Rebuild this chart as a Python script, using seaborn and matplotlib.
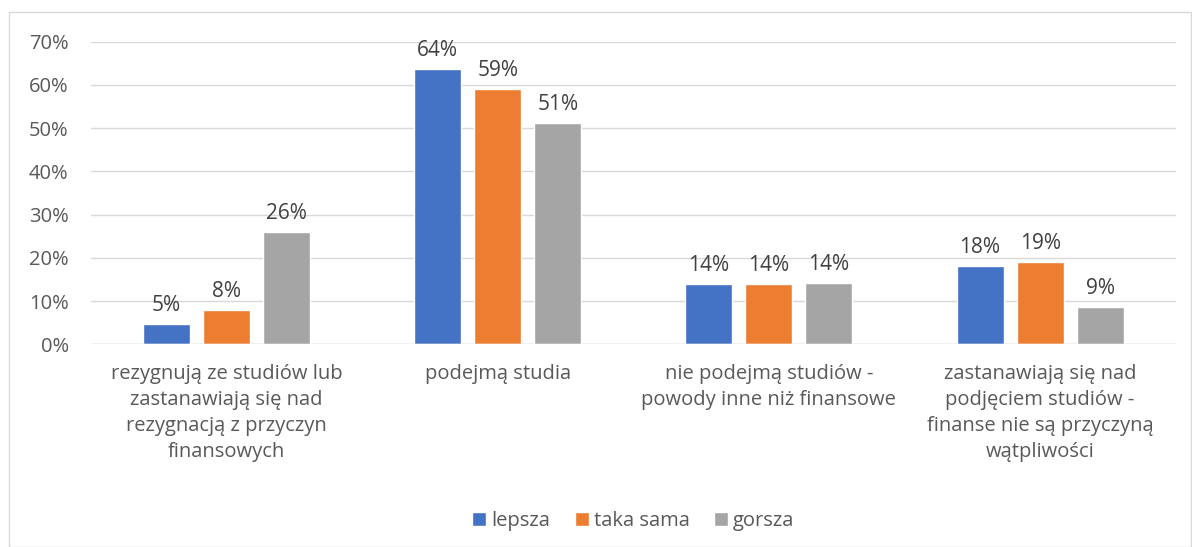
import pandas as pd
import matplotlib.pyplot as plt
import seaborn as sns
from matplotlib.patches import Rectangle
from matplotlib.ticker import PercentFormatter

# Data (percent)
categories = [
    "rezygnują ze studiów lub\nzastanawiają się nad\nrezygnacją z przyczyn\nfinansowych",
    "podejmą studia",
    "nie podejmą studiów -\npowody inne niż finansowe",
    "zastanawiają się nad\npodjęciem studiów -\nfinanse nie są przyczyną\nwątpliwości",
]
series = ["lepsza", "taka sama", "gorsza"]
lepsza = [4.6, 63.6, 13.9, 18.0]
taka_sama = [7.9, 59.0, 13.9, 19.0]
gorsza = [25.9, 51.2, 14.2, 8.6]
colors = ["#4472C4", "#ED7D31", "#A5A5A5"]

df = pd.DataFrame({
    "kategoria": categories * 3,
    "seria": [s for s in series for _ in categories],
    "wartosc": lepsza + taka_sama + gorsza,
})

sns.set_style("white")
plt.rcParams["font.family"] = ["Open Sans", "DejaVu Sans"]
text_color = "#595959"

fig = plt.figure(figsize=(11.92, 5.47), dpi=100)
ax = fig.add_axes([0.0763, 0.3706, 0.910, 0.5532])

sns.barplot(data=df, x="kategoria", y="wartosc", hue="seria", palette=colors,
            width=0.664, gap=0.217, ax=ax, legend=True, saturation=1)

# Data labels
for container in ax.containers:
    ax.bar_label(container, labels=[f"{v.get_height():.0f}%" for v in container],
                 padding=6, fontsize=15, color="#404040")

ax.set_ylim(0, 70)
ax.set_yticks(range(0, 71, 10))
ax.yaxis.set_major_formatter(PercentFormatter(decimals=0))
ax.grid(axis="y", color="#D9D9D9", linewidth=1)
ax.set_axisbelow(True)
for side in ["top", "right", "left", "bottom"]:
    ax.spines[side].set_visible(False)
ax.axhline(0, color="#D9D9D9", linewidth=1)
ax.tick_params(axis="y", length=0, labelsize=14.5, labelcolor=text_color, pad=16)
ax.tick_params(axis="x", length=0, labelsize=14.5, labelcolor=text_color, pad=14)
for lbl in ax.get_xticklabels():
    lbl.set_linespacing(1.4)
ax.set_xlabel("")
ax.set_ylabel("")

ax.legend(loc="upper center", bbox_to_anchor=(0.5, -0.49), ncol=3, frameon=False,
          fontsize=14.5, labelcolor=text_color, handlelength=0.7, handleheight=0.7,
          handletextpad=0.25, columnspacing=1.2)

# Outer chart border
fig.patches.append(Rectangle((9 / 1192, 0), 1 - 9 / 1192 - 0.001, 1 - 12 / 547,
                             transform=fig.transFigure, fill=False,
                             edgecolor="#D9D9D9", linewidth=1))

fig.savefig("out.png", dpi=100)
